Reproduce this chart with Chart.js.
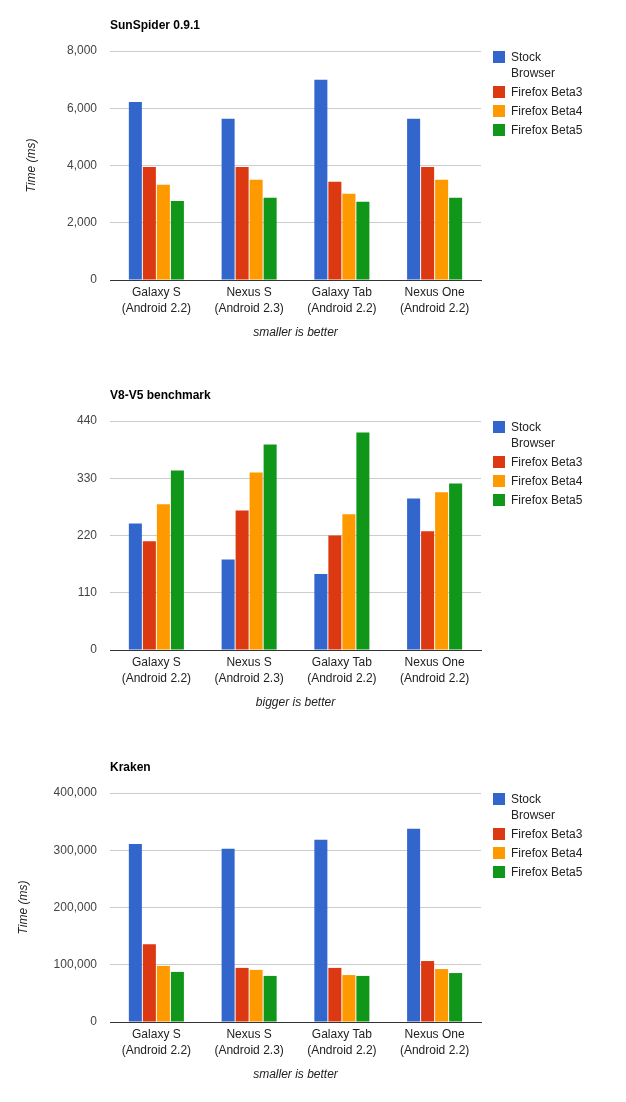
<!DOCTYPE html>
<html>
<head>
<meta charset="utf-8">
<script src="https://cdn.jsdelivr.net/npm/chart.js@4/dist/chart.umd.min.js"></script>
<style>
    body { margin: 0; background: #fff; font-family: "Liberation Sans", Arial, sans-serif; }
    .grafico { position: absolute; left: 0; width: 626px; height: 360px; }
    .legenda { position: absolute; left: 493px; top: 49px; font-size: 12px; line-height: 16px; color: #222; }
    .item { position: relative; padding-left: 18px; width: 74px; margin-bottom: 3px; }
    .item span { position: absolute; left: 0; top: 2px; width: 12px; height: 12px; }
</style>
</head>
<body>

<div class="grafico" style="top:0px"><canvas id="sunspider" width="626" height="360"></canvas><div class="legenda" id="legenda-sunspider"></div></div>
<div class="grafico" style="top:370px"><canvas id="v8" width="626" height="360"></canvas><div class="legenda" id="legenda-v8"></div></div>
<div class="grafico" style="top:742px"><canvas id="kraken" width="626" height="360"></canvas><div class="legenda" id="legenda-kraken"></div></div>

<script>
// Devices and browsers
const devices = ['Galaxy S', 'Nexus S', 'Galaxy Tab', 'Nexus One'];
const androidVersions = ['(Android 2.2)', '(Android 2.3)', '(Android 2.2)', '(Android 2.2)'];
const browsers = ['Stock Browser', 'Firefox Beta3', 'Firefox Beta4', 'Firefox Beta5'];
const colors = ['#3366cc', '#dc3912', '#ff9900', '#109618'];

// SunSpider 0.9.1 (ms)
const sunspiderStock = [6220, 5630, 7000, 5630];
const sunspiderBeta3 = [3950, 3950, 3430, 3950];
const sunspiderBeta4 = [3330, 3500, 3010, 3500];
const sunspiderBeta5 = [2760, 2870, 2730, 2870];
const sunspiderTicks = [0, 2000, 4000, 6000, 8000];

// V8-V5 benchmark (score)
const v8Stock = [243, 174, 146, 291];
const v8Beta3 = [209, 268, 220, 228];
const v8Beta4 = [280, 341, 261, 303];
const v8Beta5 = [345, 395, 418, 320];
const v8Ticks = [0, 110, 220, 330, 440];

// Kraken (ms)
const krakenStock = [311000, 302500, 318500, 337500];
const krakenBeta3 = [136000, 94500, 94500, 106500];
const krakenBeta4 = [98000, 91000, 82000, 92500];
const krakenBeta5 = [87500, 80500, 80500, 85500];
const krakenTicks = [0, 100000, 200000, 300000, 400000];

const fonte = 'Liberation Sans, Arial, sans-serif';

function montarLegenda(id) {
    const legenda = document.getElementById(id);
    browsers.forEach((nome, i) => {
        const item = document.createElement('div');
        item.className = 'item';
        item.innerHTML = `<span style="background:${colors[i]}"></span>${nome}`;
        legenda.appendChild(item);
    });
}

function criarGrafico(canvasId, titulo, series, ticks, tituloY, tituloX, paddingY) {
    const ctx = document.getElementById(canvasId).getContext('2d');
    new Chart(ctx, {
        type: 'bar',
        data: {
            labels: devices.map((d, i) => [d, androidVersions[i]]),
            datasets: series.map((valores, i) => ({
                label: browsers[i],
                data: valores,
                backgroundColor: colors[i],
                categoryPercentage: 0.604,
                barPercentage: 0.93
            }))
        },
        options: {
            responsive: false,
            animation: false,
            devicePixelRatio: 1,
            layout: { padding: { left: 0, right: 145, top: 0, bottom: 0 } },
            plugins: {
                legend: { display: false },
                tooltip: { enabled: false },
                title: {
                    display: true,
                    text: titulo,
                    align: 'start',
                    fullSize: false,
                    color: '#000',
                    font: { family: fonte, size: 12, weight: 'bold' },
                    padding: { top: 18.8, bottom: 17.8 }
                }
            },
            scales: {
                x: {
                    grid: { display: false, drawTicks: false },
                    border: { display: true, color: '#333', width: 1 },
                    ticks: {
                        color: '#222', padding: 5, maxRotation: 0, autoSkip: false,
                        font: { family: fonte, size: 12, lineHeight: 1.3 }
                    },
                    title: {
                        display: true, text: tituloX, color: '#222',
                        font: { family: fonte, size: 12, style: 'italic' },
                        padding: { top: 0, bottom: 20.3 }
                    },
                    afterFit: scale => { scale.height = 80; }
                },
                y: {
                    min: ticks[0],
                    max: ticks[ticks.length - 1],
                    grid: { color: '#ccc', drawTicks: false },
                    border: { display: false },
                    ticks: {
                        stepSize: ticks[1] - ticks[0], color: '#444', padding: 13,
                        font: { family: fonte, size: 12 }
                    },
                    title: {
                        display: tituloY !== '', text: tituloY, color: '#222',
                        font: { family: fonte, size: 12, style: 'italic' },
                        padding: { top: paddingY, bottom: 0 }
                    },
                    afterFit: scale => { scale.width = 110; }
                }
            }
        }
    });
    montarLegenda('legenda-' + canvasId);
}

criarGrafico('sunspider', 'SunSpider 0.9.1',
    [sunspiderStock, sunspiderBeta3, sunspiderBeta4, sunspiderBeta5],
    sunspiderTicks, 'Time (ms)', 'smaller is better', 24.3);
criarGrafico('v8', 'V8-V5 benchmark',
    [v8Stock, v8Beta3, v8Beta4, v8Beta5],
    v8Ticks, '', 'bigger is better', 0);
criarGrafico('kraken', 'Kraken',
    [krakenStock, krakenBeta3, krakenBeta4, krakenBeta5],
    krakenTicks, 'Time (ms)', 'smaller is better', 16.1);
</script>
</body>
</html>
